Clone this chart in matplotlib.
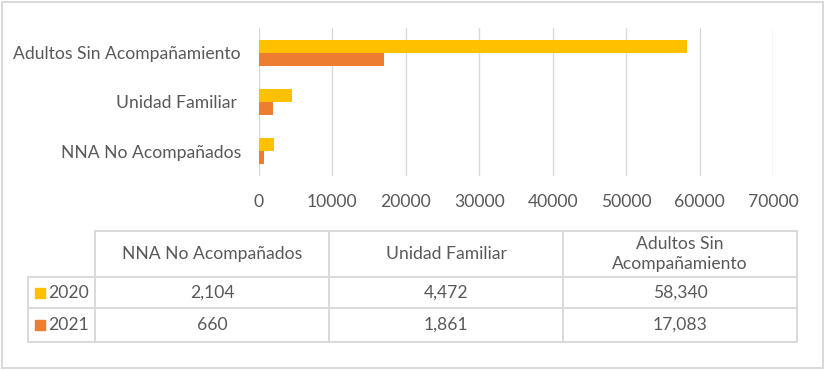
"""Horizontal bar chart (2020 vs 2021) with an Excel-style data table below."""
import numpy as np
import matplotlib
matplotlib.use("Agg")
import matplotlib.pyplot as plt
from matplotlib.patches import Rectangle

categories = ["NNA No Acompañados", "Unidad Familiar ", "Adultos Sin Acompañamiento"]
header_labels = ["NNA No Acompañados", "Unidad Familiar", "Adultos Sin\nAcompañamiento"]
years = ["2020", "2021"]
vals_2020 = [2104, 4472, 58340]
vals_2021 = [660, 1861, 17083]
x_ticks = [0, 10000, 20000, 30000, 40000, 50000, 60000, 70000]

C2020, C2021 = "#FFC000", "#ED7D31"
GRID = "#D9D9D9"
TXT = "#595959"
FS = 12.6

plt.rcParams["font.family"] = ["Lato", "DejaVu Sans"]
plt.rcParams["font.size"] = FS

W, H = 825, 370
fig = plt.figure(figsize=(W / 100, H / 100), dpi=100)

# bar chart area (pixel box 259..773 x 28..176)
ax = fig.add_axes([259 / W, 1 - 176 / H, 514 / W, 148 / H])
y = np.arange(len(categories))
bh = 0.265
ax.barh(y + bh / 2, vals_2020, height=bh, color=C2020, zorder=3)
ax.barh(y - bh / 2, vals_2021, height=bh, color=C2021, zorder=3)
ax.set_xlim(0, 70000)
ax.set_ylim(-0.5, len(categories) - 0.5)
ax.set_xticks(x_ticks)
ax.set_xticklabels([str(t) for t in x_ticks])
ax.set_yticks(y)
ax.set_yticklabels(categories)
ax.tick_params(length=0, colors=TXT, labelsize=FS)
ax.tick_params(axis="x", pad=13)
ax.tick_params(axis="y", pad=13)
ax.grid(axis="x", color=GRID, lw=1.0, zorder=0)
for s in ax.spines.values():
    s.set_visible(False)

# data table drawn in pixel coordinates
tb = fig.add_axes([0, 0, 1, 1], zorder=-1)
tb.set_xlim(0, W)
tb.set_ylim(H, 0)
tb.axis("off")

x_lab, x0, cw = 28, 95, 234
y_head, y_rows = 231, [277, 308, 342]
x_end = x0 + cw * len(header_labels)
lw = 1.4

tb.plot([x0, x_end], [y_head, y_head], color=GRID, lw=lw)
for yy in y_rows:
    tb.plot([x_lab, x_end], [yy, yy], color=GRID, lw=lw)
tb.plot([x_lab, x_lab], [y_rows[0], y_rows[-1]], color=GRID, lw=lw)
for i in range(len(header_labels) + 1):
    xx = x0 + cw * i
    tb.plot([xx, xx], [y_head, y_rows[-1]], color=GRID, lw=lw)

for i, lab in enumerate(header_labels):
    tb.text(x0 + cw * (i + 0.5), (y_head + y_rows[0]) / 2, lab, ha="center",
            va="center", color=TXT, fontsize=FS, linespacing=1.3)

for r, (yr, vals, col) in enumerate(zip(years, [vals_2020, vals_2021], [C2020, C2021])):
    yc = (y_rows[r] + y_rows[r + 1]) / 2
    tb.add_patch(Rectangle((35, yc - 5), 10, 10, color=col))
    tb.text(48, yc, yr, ha="left", va="center", color=TXT, fontsize=FS)
    for i, v in enumerate(vals):
        tb.text(x0 + cw * (i + 0.5), yc, f"{v:,}", ha="center", va="center",
                color=TXT, fontsize=FS)

# outer chart border
fig.patches.append(Rectangle((1.5 / W, 2.5 / H), 821.5 / W, 365.5 / H,
                             transform=fig.transFigure, fill=False,
                             edgecolor=GRID, lw=1.4))

fig.savefig("out.png", dpi=100)
